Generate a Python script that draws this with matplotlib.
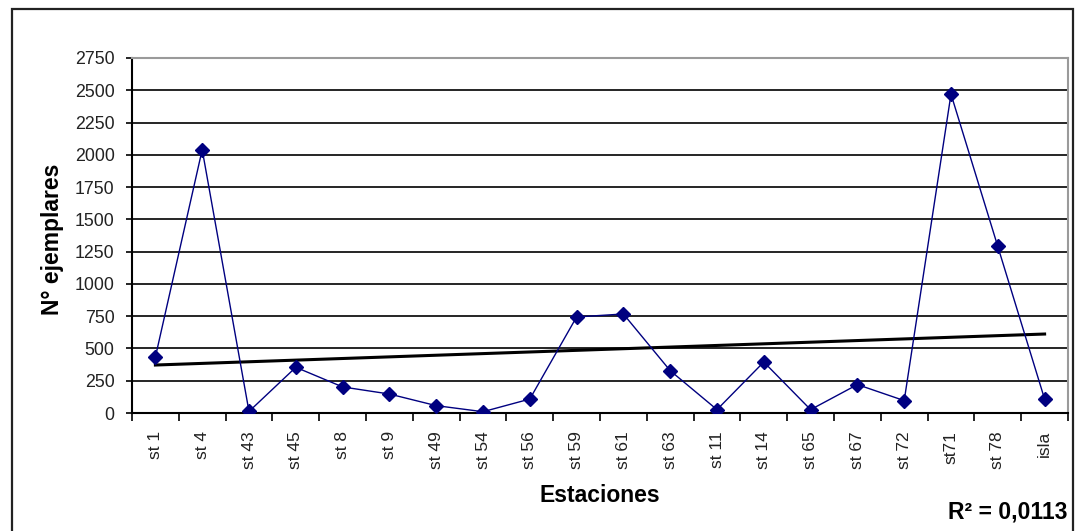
import matplotlib
matplotlib.use("Agg")
import matplotlib.pyplot as plt
import numpy as np
from matplotlib.patches import Rectangle

stations = ["st 1", "st 4", "st 43", "st 45", "st 8", "st 9", "st 49", "st 54",
            "st 56", "st 59", "st 61", "st 63", "st 11", "st 14", "st 65", "st 67",
            "st 72", "st71", "st 78", "isla"]
ejemplares = [434, 2040, 12, 354, 202, 147, 57, 10, 108, 744, 767, 328, 26, 395,
              26, 220, 96, 2470, 1290, 108]
y_ticks = [0, 250, 500, 750, 1000, 1250, 1500, 1750, 2000, 2250, 2500, 2750]
r2_text = "R² = 0,0113"

plt.rcParams['font.family'] = ['Liberation Sans', 'DejaVu Sans']

W, H = 1075, 531
fig = plt.figure(figsize=(W / 100, H / 100), dpi=100)
ax = fig.add_axes([132 / W, 1 - 413 / H, (1068 - 132) / W, (413 - 58) / H])

x = np.arange(len(stations))

# gridlines
ax.hlines(y_ticks[1:-1], -0.5, len(stations) - 0.5, colors='black', lw=1.2, zorder=1)

# series
ax.plot(x, ejemplares, color='#000080', lw=1.0, marker='D', markersize=7,
        markerfacecolor='#000080', markeredgecolor='#000080', zorder=4)

# linear trend line
coef = np.polyfit(x, ejemplares, 1)
ax.plot(x, np.polyval(coef, x), color='black', lw=2.2, zorder=3)

ax.set_xlim(-0.5, len(stations) - 0.5)
ax.set_ylim(0, 2750)
ax.set_yticks(y_ticks)
ax.set_yticklabels([str(v) for v in y_ticks], fontsize=12.8, color='#222222')
ax.set_xticks(x)
ax.set_xticklabels(stations, rotation=90, fontsize=12.5, color='#222222')
ax.set_xticks(np.arange(-0.5, len(stations)), minor=True)
ax.tick_params(axis='x', which='major', length=0, pad=13)
ax.tick_params(axis='x', which='minor', length=5.5, width=1.2, direction='out', color='black')
ax.tick_params(axis='y', length=4.5, width=1.2, direction='out', pad=8, color='black')

for s in ['left', 'bottom']:
    ax.spines[s].set_color('black')
    ax.spines[s].set_linewidth(1.5)
for s in ['top', 'right']:
    ax.spines[s].set_color('#9a9a9a')
    ax.spines[s].set_linewidth(1.5)

fig.text(53 / W, 1 - 239 / H, "N° ejemplares", rotation=90, ha='center', va='center',
         fontsize=16.5, fontweight='bold')
fig.text(600 / W, 1 - 495 / H, "Estaciones", ha='center', va='center',
         fontsize=16.5, fontweight='bold')
fig.text(1068 / W, 1 - 512 / H, r2_text, ha='right', va='center',
         fontsize=16.5, fontweight='bold')

# outer chart border
fig.patches.append(Rectangle((12 / W, -0.05), (1073 - 12) / W, 1.05 - 9 / H,
                             transform=fig.transFigure, fill=False,
                             edgecolor='#222222', lw=1.6))

fig.savefig("out.png", dpi=100)
